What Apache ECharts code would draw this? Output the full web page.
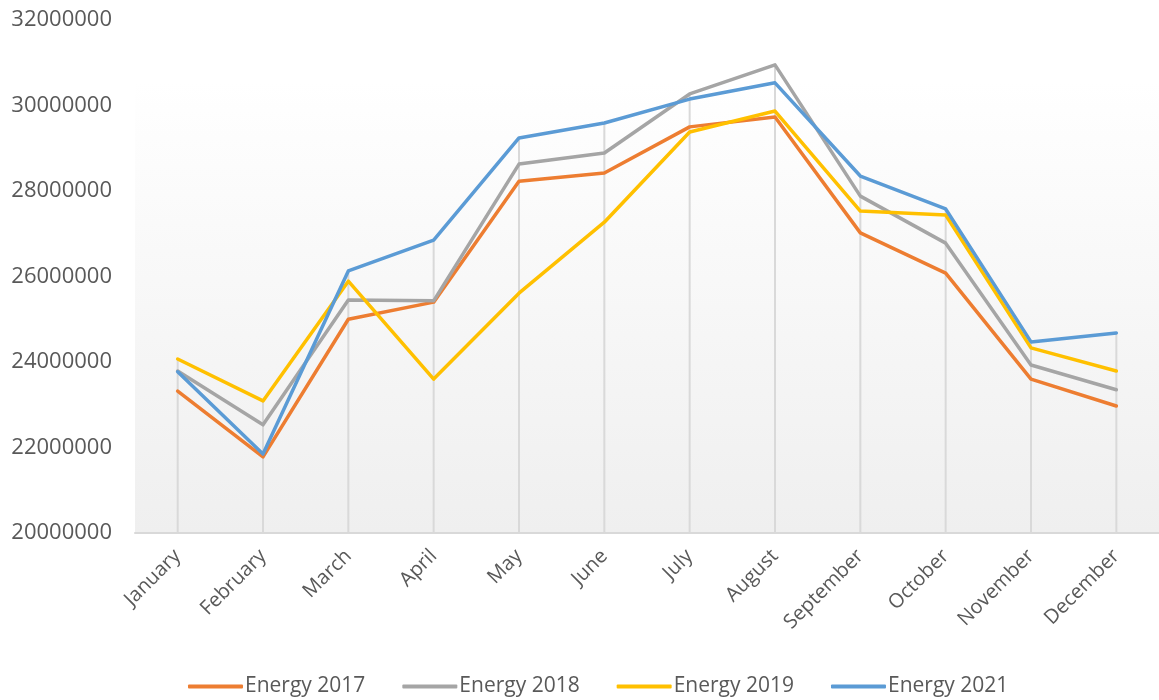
<!DOCTYPE html>
<html>
<head>
<meta charset="utf-8">
<script src="https://cdn.jsdelivr.net/npm/echarts@6/dist/echarts.min.js"></script>
<style>
  html, body { margin: 0; padding: 0; background: #fff; }
  #main { width: 1159px; height: 700px; }
</style>
</head>
<body>
<div id="main"></div>
<script>
var months = ['January', 'February', 'March', 'April', 'May', 'June', 'July', 'August', 'September', 'October', 'November', 'December'];
var energy2017 = [23320000, 21780000, 25000000, 25400000, 28230000, 28420000, 29500000, 29730000, 27020000, 26080000, 23600000, 22970000];
var energy2018 = [23790000, 22530000, 25450000, 25430000, 28630000, 28890000, 30270000, 30950000, 27880000, 26780000, 23930000, 23350000];
var energy2019 = [24070000, 23090000, 25890000, 23600000, 25610000, 27270000, 29380000, 29870000, 27530000, 27440000, 24330000, 23790000];
var energy2021 = [23770000, 21850000, 26130000, 26850000, 29240000, 29590000, 30150000, 30530000, 28350000, 27580000, 24470000, 24680000];
var yTicks = [20000000, 32000000, 2000000]; // min, max, step

// drop lines go up to the highest of the four series
var dropTop = months.map(function(m, i) {
  return Math.max(energy2017[i], energy2018[i], energy2019[i], energy2021[i]);
});

var font = '"Open Sans", "DejaVu Sans", sans-serif';
var labelColor = '#595959';

function lineSeries(name, data, color) {
  return {
    name: name,
    type: 'line',
    data: data,
    symbol: 'none',
    z: 3,
    lineStyle: { color: color, width: 3.5, cap: 'round', join: 'round' },
    itemStyle: { color: color }
  };
}

var chart = echarts.init(document.getElementById('main'), null, { renderer: 'canvas' });
var option = {
  animation: false,
  textStyle: { fontFamily: font },
  grid: {
    left: 135, right: 0, top: 20, bottom: 167,
    show: true,
    borderWidth: 0,
    backgroundColor: {
      type: 'linear', x: 0, y: 0, x2: 0, y2: 1,
      colorStops: [
        { offset: 0, color: '#ffffff' },
        { offset: 0.12, color: '#ffffff' },
        { offset: 1, color: '#efefef' }
      ]
    }
  },
  legend: {
    bottom: -2,
    left: 183,
    data: ['Energy 2017', 'Energy 2018', 'Energy 2019', 'Energy 2021'],
    icon: 'roundRect',
    itemWidth: 55,
    itemHeight: 4,
    itemGap: 37,
    textStyle: { fontSize: 21, color: labelColor, fontFamily: font, padding: [0, 0, 0, -3] }
  },
  xAxis: {
    type: 'category',
    data: months,
    boundaryGap: true,
    axisLine: { show: true, lineStyle: { color: '#d9d9d9', width: 2 } },
    axisTick: { show: false },
    splitLine: { show: false },
    axisLabel: { rotate: 45, fontSize: 20, color: labelColor, margin: 20, interval: 0 }
  },
  yAxis: {
    type: 'value',
    min: yTicks[0],
    max: yTicks[1],
    interval: yTicks[2],
    axisLine: { show: false },
    axisTick: { show: false },
    splitLine: { show: false },
    axisLabel: {
      fontSize: 22, color: labelColor, margin: 23,
      formatter: function(v) { return String(v); }
    }
  },
  series: [
    {
      name: 'drop',
      type: 'bar',
      data: dropTop,
      barWidth: 2,
      silent: true,
      z: 1,
      itemStyle: { color: '#d9d9d9' }
    },
    lineSeries('Energy 2017', energy2017, '#ED7D31'),
    lineSeries('Energy 2018', energy2018, '#A5A5A5'),
    lineSeries('Energy 2019', energy2019, '#FFC000'),
    lineSeries('Energy 2021', energy2021, '#5B9BD5')
  ]
};
chart.setOption(option);
</script>
</body>
</html>
